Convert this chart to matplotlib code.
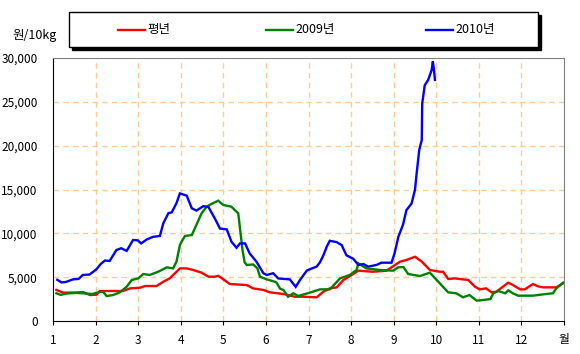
import matplotlib
matplotlib.use('Agg')
import matplotlib.pyplot as plt
from matplotlib.patches import Rectangle
from matplotlib.lines import Line2D

plt.rcParams['font.family'] = ['Noto Sans CJK KR', 'DejaVu Sans']

# x in month units (1 = Jan 1, 13 = end of Dec), values in won / 10kg
avg_x = [1.08, 1.24, 1.55, 1.70, 1.87, 2.02, 2.10, 2.64, 2.81, 3.05, 3.16, 3.43,
         3.59, 3.74, 3.86, 3.98, 4.14, 4.29, 4.49, 4.65, 4.80, 4.88, 5.00, 5.15,
         5.55, 5.70, 5.94, 6.09, 6.41, 6.68, 6.88, 7.19, 7.35, 7.50, 7.66, 7.82,
         8.05, 8.17, 8.51, 8.83, 9.15, 9.30, 9.50, 9.66, 9.85, 10.08, 10.16, 10.28,
         10.43, 10.75, 10.91, 11.02, 11.17, 11.30, 11.41, 11.69, 11.80, 11.97, 12.08,
         12.27, 12.39, 12.51, 12.82, 12.98]
avg_y = [3540, 3230, 3250, 3300, 2960, 3000, 3420, 3420, 3720, 3800, 3990, 3990,
         4480, 4860, 5430, 6000, 6000, 5820, 5510, 5050, 5050, 5160, 4750, 4220,
         4100, 3720, 3540, 3270, 3080, 2770, 2770, 2700, 3340, 3720, 3830, 4680,
         5360, 5740, 5620, 5740, 6770, 6960, 7330, 6770, 5820, 5620, 5620, 4790,
         4860, 4680, 3910, 3610, 3720, 3270, 3340, 4370, 4100, 3610, 3610,
         4220, 3950, 3840, 3840, 4300]

y2009_x = [1.08, 1.18, 1.35, 1.55, 1.73, 1.92, 2.10, 2.18, 2.26, 2.41, 2.57, 2.73,
           2.85, 3.00, 3.12, 3.27, 3.47, 3.67, 3.82, 3.90, 3.98, 4.02, 4.10, 4.26,
           4.37, 4.49, 4.61, 4.72, 4.88, 5.00, 5.19, 5.27, 5.35, 5.40, 5.45, 5.50,
           5.55, 5.70, 5.80, 5.86, 6.02, 6.21, 6.25, 6.33, 6.41, 6.52, 6.64, 6.76,
           7.03, 7.27, 7.50, 7.74, 7.97, 8.13, 8.17, 8.36, 8.68, 8.99, 9.11, 9.23,
           9.34, 9.62, 9.69, 9.85, 10.01, 10.12, 10.28, 10.47, 10.63, 10.78, 10.95,
           11.11, 11.27, 11.34, 11.46, 11.62, 11.69, 11.80, 11.92, 12.27, 12.51,
           12.74, 12.82, 12.98]
y2009_y = [3160, 2980, 3150, 3200, 3160, 3080, 3310, 3310, 2850, 2960, 3270, 3910,
           4680, 4860, 5360, 5250, 5620, 6120, 6000, 6770, 8670, 9050, 9700, 9800,
           11000, 12290, 13040, 13350, 13720, 13230, 13040, 12650, 12290, 10200, 8100, 6700,
           6390, 6450, 6000, 5050, 4750, 4480, 4370, 3700, 3540, 2770, 3160, 2860,
           3230, 3610, 3610, 4860, 5250, 5820, 6580, 6000, 5820, 5740, 6120, 6150,
           5360, 5130, 5250, 5510, 4680, 4100, 3270, 3160, 2700, 2960, 2320,
           2400, 2500, 3160, 3420, 3160, 3500, 3160, 2890, 2890, 3040,
           3160, 3720, 4370]

y2010_x = [1.10, 1.20, 1.30, 1.47, 1.60, 1.70, 1.86, 2.02, 2.12, 2.22, 2.33, 2.49,
           2.60, 2.73, 2.88, 2.99, 3.07, 3.20, 3.35, 3.51, 3.59, 3.71, 3.79, 3.90,
           3.98, 4.14, 4.26, 4.37, 4.53, 4.65, 4.80, 4.92, 5.08, 5.19, 5.31, 5.39,
           5.51, 5.62, 5.78, 5.94, 6.02, 6.17, 6.29, 6.56, 6.70, 6.80, 6.96, 7.08,
           7.19, 7.27, 7.35, 7.43, 7.50, 7.66, 7.78, 7.89, 8.05, 8.17, 8.29, 8.40,
           8.60, 8.71, 8.95, 9.02, 9.11, 9.22, 9.30, 9.42, 9.50, 9.54, 9.60, 9.66,
           9.67, 9.73, 9.81, 9.89, 9.92, 9.94, 9.97]
y2010_y = [4700, 4400, 4450, 4750, 4800, 5250, 5300, 5900, 6500, 6900, 6850, 8100,
           8300, 8000, 9240, 9200, 8850, 9300, 9600, 9700, 11150, 12300, 12400, 13450,
           14550, 14300, 12850, 12600, 13100, 13000, 11700, 10550, 10450, 9050, 8350, 8850,
           8850, 7700, 6750, 5450, 5250, 5450, 4850, 4750, 3900, 4680, 5750, 6000,
           6200, 6700, 7500, 8500, 9150, 9000, 8650, 7500, 7100, 6400, 6500, 6200,
           6400, 6650, 6650, 7700, 9600, 11000, 12650, 13400, 14950, 16850, 19500, 20650,
           24800, 26900, 27500, 28600, 29600, 28900, 27500]

xticks = list(range(1, 14))
xlabels = [str(m) for m in range(1, 13)] + ['월']
yticks = [0, 5000, 10000, 15000, 20000, 25000, 30000]
ylabels = ['0', '5,000', '10,000', '15,000', '20,000', '25,000', '30,000']

series = [
    ('평년', avg_x, avg_y, '#ff0000'),
    ('2009년', y2009_x, y2009_y, '#008000'),
    ('2010년', y2010_x, y2010_y, '#0000ff'),
]

W, H = 580, 354
fig = plt.figure(figsize=(W / 100, H / 100), dpi=100)
ax = fig.add_axes([53 / W, 1 - 321 / H, 511 / W, 263 / H])

for name, xs, ys, c in series:
    ax.plot(xs, ys, color=c, lw=1.7, solid_joinstyle='miter')

ax.set_xlim(1, 13)
ax.set_ylim(0, 30000)
ax.set_xticks(xticks)
ax.set_xticklabels(xlabels)
ax.set_yticks(yticks)
ax.set_yticklabels(ylabels)
ax.tick_params(axis='x', length=3, pad=6, labelsize=8.5, color='black')
ax.tick_params(axis='y', length=0, pad=11, labelsize=8.5)

for m in range(2, 13):
    ax.axvline(m, color='#ffcc99', lw=1, dashes=(4, 3), zorder=0)
for v in yticks[1:-1]:
    ax.axhline(v, color='#ffcc99', lw=1, dashes=(4, 3), zorder=0)

for s in ['left', 'bottom']:
    ax.spines[s].set_color('black')
for s in ['top', 'right']:
    ax.spines[s].set_color('#808080')

fig.text(12 / W, 1 - 36 / H, '원/10kg', fontsize=9, va='center', ha='left')

# legend box with solid shadow
bx, by, bw, bh = 69 / W, 1 - 47 / H, 469 / W, 35 / H
fig.patches.append(Rectangle((bx + 3 / W, by - 3 / H), bw, bh, transform=fig.transFigure,
                             facecolor='black', edgecolor='black', zorder=1))
fig.patches.append(Rectangle((bx, by), bw, bh, transform=fig.transFigure,
                             facecolor='white', edgecolor='black', lw=1, zorder=2))
ly = 1 - 30 / H
for (name, xs, ys, c), lx in zip(series, [118, 266, 426]):
    fig.lines.append(Line2D([lx / W, (lx + 27) / W], [ly, ly], transform=fig.transFigure,
                            color=c, lw=1.7, zorder=3))
    fig.text((lx + 29) / W, ly, name, fontsize=9, va='center', ha='left', zorder=3)

fig.savefig('out.png', dpi=100)
